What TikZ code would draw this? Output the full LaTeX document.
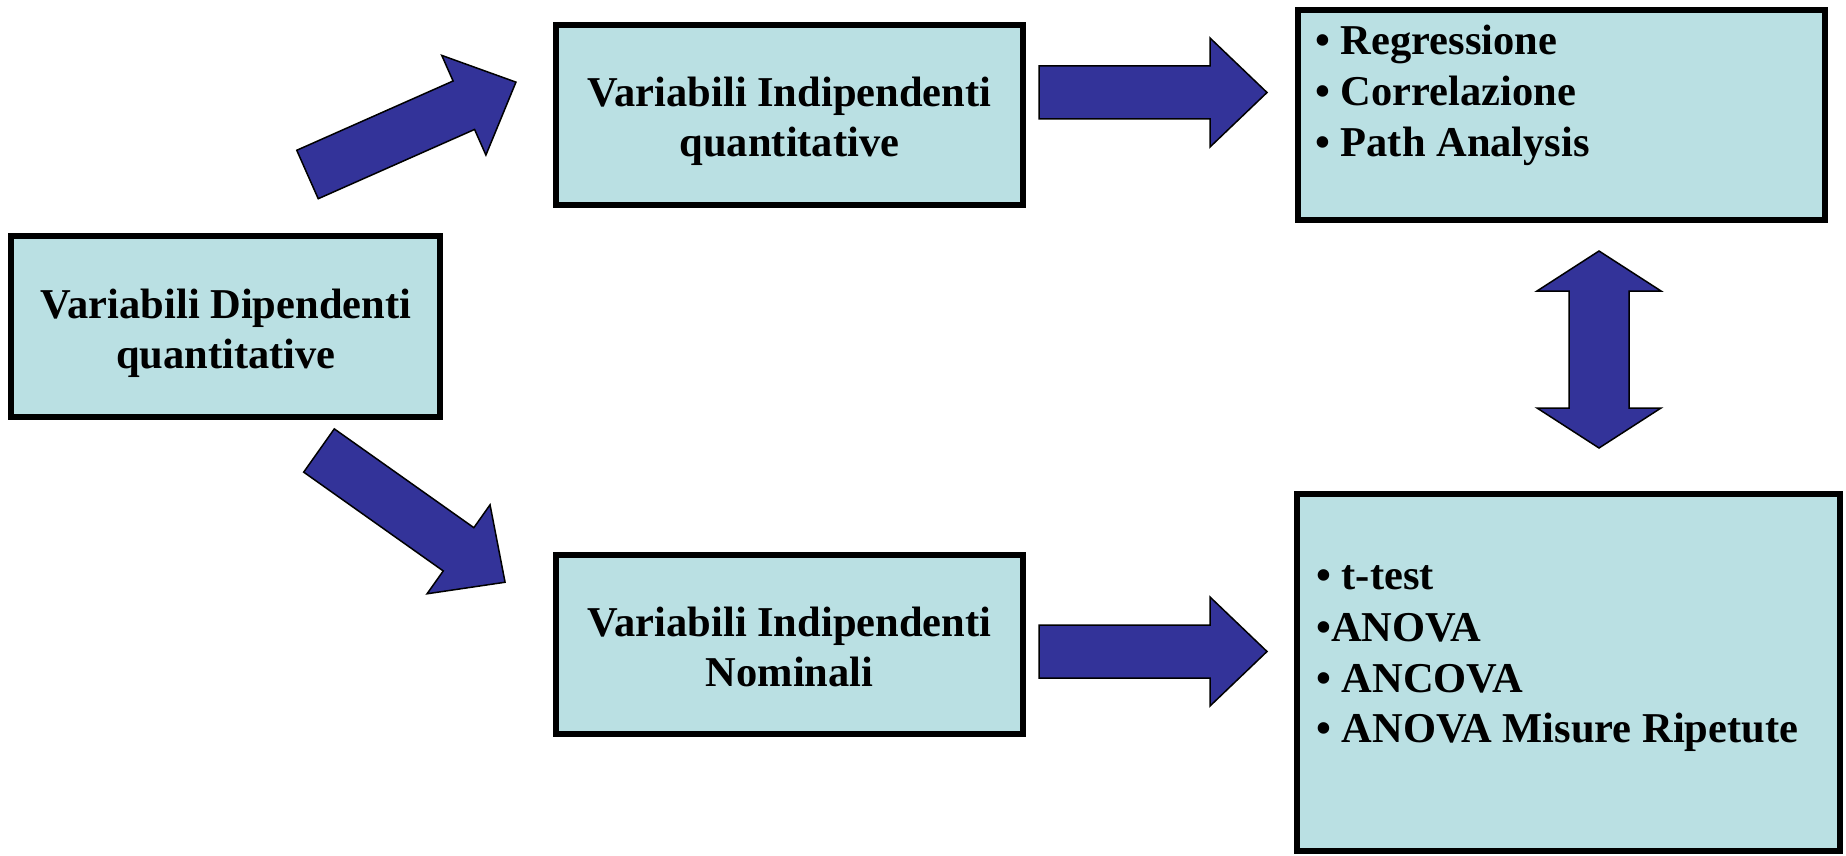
\documentclass[tikz,border=0pt]{standalone}
\usepackage{fontspec}
\setmainfont{Liberation Serif}
\definecolor{boxfill}{RGB}{186,224,227}
\definecolor{arrowfill}{RGB}{51,51,153}
\tikzset{
  box/.style={draw=black, line width=6pt, fill=boxfill, rectangle, inner sep=0pt, outer sep=0pt},
  txt/.style={font=\bfseries\fontsize{42.5}{50}\selectfont, inner sep=0pt, anchor=base},
  item/.style={txt, anchor=base west},
  barrow/.style={draw=black, line width=1.5pt, fill=arrowfill, line join=miter},
  pics/blockarrow/.style={code={
    \draw[barrow] (0,-26.5)--(171,-26.5)--(171,-54.5)--(228,0)--(171,54.5)--(171,26.5)--(0,26.5)--cycle;}},
}
\begin{document}
\begin{tikzpicture}[x=1pt,y=-1pt]
\useasboundingbox (0,0) rectangle (1846,856);
% boxes
\node[box, minimum width=429pt, minimum height=181pt] (dip) at (225.5,326.5) {};
\node[box, minimum width=467pt, minimum height=180pt] (iq) at (789.5,115) {};
\node[box, minimum width=467pt, minimum height=179pt] (nom) at (789.5,644.5) {};
\node[box, minimum width=527pt, minimum height=210pt] (reg) at (1561.5,115) {};
\node[box, minimum width=543pt, minimum height=357pt] (anova) at (1568.5,672.5) {};
% texts
\node[txt] (dip1) at (226,318) {Variabili Dipendenti};
\node[txt] (dip2) at (226,368) {quantitative};
\node[txt] (iq1) at (789.5,107) {Variabili Indipendenti};
\node[txt] (iq2) at (789.5,157) {quantitative};
\node[txt] (nom1) at (789.5,636) {Variabili Indipendenti};
\node[txt] (nom2) at (789.5,686) {Nominali};
\node[item] (r1) at (1315,55) {• Regressione};
\node[item] (r2) at (1315,106) {• Correlazione};
\node[item] (r3) at (1315,157) {• Path Analysis};
\node[item] (t1) at (1316,589) {• t-test};
\node[item] (t2) at (1316,641) {•ANOVA};
\node[item] (t3) at (1316,692) {• ANCOVA};
\node[item] (t4) at (1316,742) {• ANOVA Misure Ripetute};
% block arrows
\coordinate (a1) at (307.5,174.5);
\coordinate (a2) at (319,450.5);
\coordinate (a3) at (1039,92.5);
\coordinate (a4) at (1039,651.5);
\pic[rotate=23.9] at (a1) {blockarrow};
\pic[rotate=-35.3] at (a2) {blockarrow};
\pic at (a3) {blockarrow};
\pic at (a4) {blockarrow};
\coordinate (d) at (1599,349.5);
\draw[barrow] (d) ++(0,-98.5) -- ++(62,40) -- ++(-32,0) -- ++(0,117) -- ++(32,0)
  -- ++(-62,40) -- ++(-62,-40) -- ++(32,0) -- ++(0,-117) -- ++(-32,0) -- cycle;
\end{tikzpicture}
\end{document}
